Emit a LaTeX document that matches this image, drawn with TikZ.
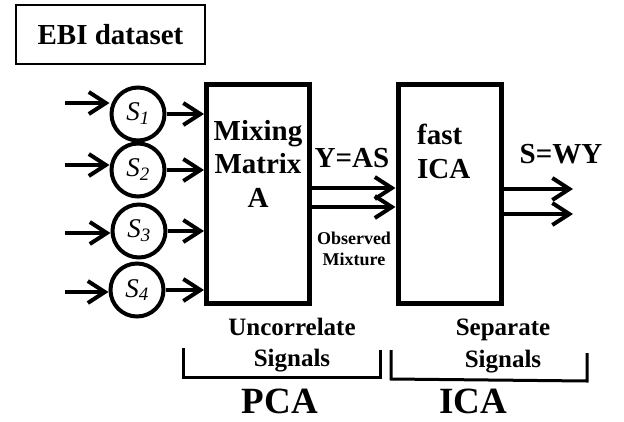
\documentclass[tikz,border=0pt]{standalone}
\usepackage{fontspec}
\setmainfont{Liberation Serif}
\usetikzlibrary{arrows.meta}

\begin{document}
\begin{tikzpicture}[x=1pt,y=-1pt,
    sig/.style={circle,draw,line width=4pt,minimum size=53pt,inner sep=0pt,font=\fontsize{27}{27}\selectfont\itshape},
    blk/.style={draw,line width=5pt,minimum width=103pt,minimum height=219pt,inner sep=0pt},
    arr/.style={line width=4pt,-{Straight Barb[length=17pt,width=22pt]}},
    brk/.style={line width=3pt,line join=miter},
    big/.style={font=\fontsize{29}{33.5}\selectfont\bfseries,inner sep=0pt}]
  \useasboundingbox (0,0) rectangle (624,421);
  \node[draw,line width=2pt,minimum width=189pt,minimum height=59pt,big] (ebi) at (110.5,34.5) {EBI dataset};
  % sources
  \node[sig] (s1) at (138,114) {S\textsubscript{1}};
  \node[sig] (s2) at (138,170) {S\textsubscript{2}};
  \node[sig] (s3) at (139,231) {S\textsubscript{3}};
  \node[sig] (s4) at (137,290) {S\textsubscript{4}};
  % blocks
  \node[blk] (mix) at (258,194) {};
  \node[blk] (fica) at (449.5,194) {};
  \node[big,align=center,anchor=base] (mixtxt) at (258,207) {Mixing\\Matrix\\A};
  \node[big,align=left,anchor=base west] (ficatxt) at (417,178) {fast\\ICA};
  \node[big,anchor=base] (yas) at (352,167) {Y=AS};
  \node[big,anchor=base] (swy) at (561,163) {S=WY};
  \node[font=\fontsize{18}{21}\selectfont\bfseries,align=center,anchor=base,inner sep=0pt] (obs) at (354,265) {Observed\\Mixture};
  % arrows
  \foreach \i/\y in {1/103,2/165,3/233,4/292}{
    \coordinate (in\i) at (65,\y);
    \draw[arr] (in\i) -- (in\i -| s\i.west);
    \draw[arr] (s\i.east) -- (s\i.east -| mix.west);
  }
  \coordinate (ya) at (0,188);
  \coordinate (yb) at (0,207);
  \draw[arr] (mix.east |- ya) -- (fica.west |- ya);
  \draw[arr] (mix.east |- yb) -- (fica.west |- yb);
  \coordinate (out1) at (573,189);
  \coordinate (out2) at (573,214);
  \draw[arr] (out1 -| fica.east) -- (out1);
  \draw[arr] (out2 -| fica.east) -- (out2);
  % brackets
  \node[font=\fontsize{25}{31}\selectfont\bfseries,align=center,anchor=base,inner sep=0pt] (unc) at (292,366) {Uncorrelate\\Signals};
  \node[font=\fontsize{25}{32}\selectfont\bfseries,align=center,anchor=base,inner sep=0pt] (sep) at (503,367) {Separate\\Signals};
  \draw[brk] (183,348) -- (183,377) -- (380,377) -- (380,350);
  \draw[brk] (391,350) -- (391,379) -- (587,381) -- (587,353);
  \node[font=\fontsize{37}{37}\selectfont\bfseries,anchor=base,inner sep=0pt] (pca) at (280,413) {PCA};
  \node[font=\fontsize{37}{37}\selectfont\bfseries,anchor=base,inner sep=0pt] (ica) at (473,413) {ICA};
\end{tikzpicture}
\end{document}
